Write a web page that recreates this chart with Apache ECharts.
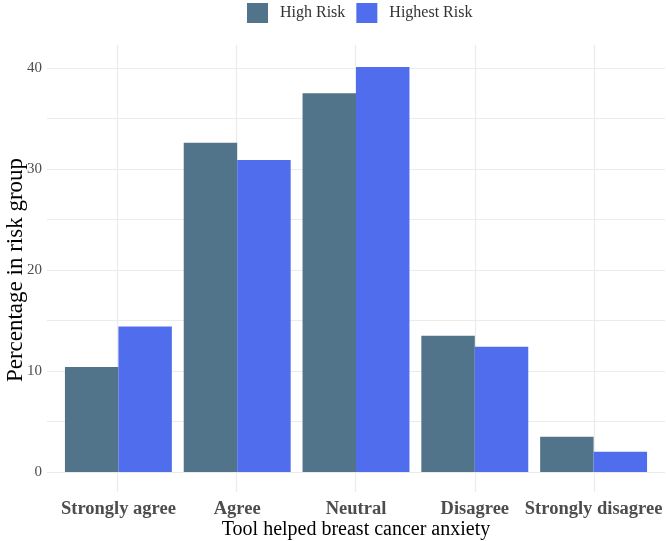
<!DOCTYPE html>
<html><head><meta charset="utf-8">
<script src="https://cdn.jsdelivr.net/npm/echarts@6/dist/echarts.min.js"></script>
<style>html,body{margin:0;padding:0;background:#fff}#c{width:666px;height:541px}</style>
</head><body><div id="c"></div>
<script>
const categories = ['Strongly agree', 'Agree', 'Neutral', 'Disagree', 'Strongly disagree'];
const highRisk = [10.4, 32.6, 37.5, 13.5, 3.5];
const highestRisk = [14.4, 30.9, 40.1, 12.4, 2.0];
const seriesNames = ['High Risk', 'Highest Risk'];
const colors = ['#52748A', '#4F6DEC'];
const yTicks = [0, 10, 20, 30, 40];

const font = 'Liberation Serif';
const chart = echarts.init(document.getElementById('c'), null, {renderer: 'canvas'});
const grid = '#EBEBEB';
chart.setOption({
  animation: false,
  textStyle: {fontFamily: font},
  legend: {
    data: seriesNames, top: 3, left: 247, padding: 0, itemWidth: 21, itemHeight: 20, itemGap: 11,
    textStyle: {fontFamily: font, fontSize: 16, color: '#333', padding: [0, 0, 0, 7]}, icon: 'rect'
  },
  grid: [
    {left: 47, right: 1, top: 68, bottom: 69, outerBoundsMode: 'none', containLabel: false},
    {left: 117, right: 72, top: 45, bottom: 49, outerBoundsMode: 'none', containLabel: false},
    {left: 59, right: 13, top: 68, bottom: 69, outerBoundsMode: 'none', containLabel: false}
  ],
  xAxis: [
    {gridIndex: 0, type: 'value', show: false},
    {gridIndex: 1, type: 'category', data: categories, boundaryGap: false,
     axisLine: {show: false}, axisTick: {show: false}, axisLabel: {show: false},
     splitLine: {show: true, lineStyle: {color: grid, width: 1.2}}},
    {gridIndex: 2, type: 'category', data: categories,
     axisLine: {show: false}, axisTick: {show: false},
     axisLabel: {fontFamily: font, fontSize: 18.5, fontWeight: 'bold', color: '#4D4D4D', margin: 28, interval: 0},
     name: 'Tool helped breast cancer anxiety', nameLocation: 'middle', nameGap: 48, nameMoveOverlap: false,
     nameTextStyle: {fontFamily: font, fontSize: 20, color: '#000'}}
  ],
  yAxis: [
    {gridIndex: 0, type: 'value', min: 0, max: 40, interval: 5,
     axisLine: {show: false}, axisTick: {show: false},
     axisLabel: {fontFamily: font, fontSize: 15, color: '#4D4D4D', margin: 5,
       formatter: v => yTicks.includes(v) ? String(v) : ''},
     splitLine: {show: true, lineStyle: {color: grid, width: 1.2}},
     name: 'Percentage in risk group', nameLocation: 'middle', nameGap: 20, nameRotate: 90, nameMoveOverlap: false,
     nameTextStyle: {fontFamily: font, fontSize: 23, color: '#000'}},
    {gridIndex: 1, type: 'value', show: false},
    {gridIndex: 2, type: 'value', min: 0, max: 40, show: false}
  ],
  series: [
    {name: seriesNames[0], type: 'bar', xAxisIndex: 2, yAxisIndex: 2, data: highRisk,
     itemStyle: {color: colors[0]}, barGap: '0%', barCategoryGap: '10%', clip: false},
    {name: seriesNames[1], type: 'bar', xAxisIndex: 2, yAxisIndex: 2, data: highestRisk,
     itemStyle: {color: colors[1]}, barGap: '0%', barCategoryGap: '10%', clip: false}
  ]
});
</script></body></html>
